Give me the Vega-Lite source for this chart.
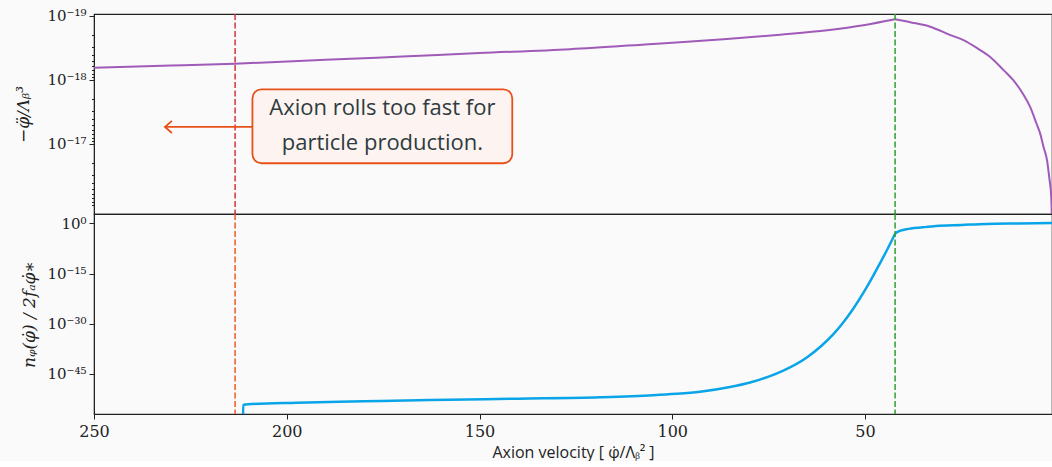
{
  "$schema": "https://vega.github.io/schema/vega-lite/v6.json",
  "autosize": "pad",
  "padding": {"left": 14, "top": 8, "right": 0, "bottom": 0},
  "background": "#fafafa",
  "spacing": 0,
  "bounds": "flush",
  "config": {
    "view": {"stroke": "#222222", "strokeWidth": 1.2, "fill": "#fafafa"},
    "axis": {
      "grid": false,
      "domainColor": "#222222",
      "tickColor": "#222222",
      "labelFont": "DejaVu Serif",
      "labelFontSize": 15,
      "labelColor": "#222222",
      "titleFont": "Open Sans",
      "titleFontSize": 16,
      "titleFontWeight": "normal",
      "titleColor": "#222222",
      "labelOverlap": false
    }
  },
  "datasets": {
    "accel": [
      {"s": "rise", "v": 250, "a": 6.46e-19}, {"s": "rise", "v": 230, "a": 5.96e-19}, {"s": "rise", "v": 213.4, "a": 5.56e-19},
      {"s": "rise", "v": 190, "a": 4.85e-19}, {"s": "rise", "v": 170, "a": 4.30e-19}, {"s": "rise", "v": 150, "a": 3.80e-19},
      {"s": "rise", "v": 126.5, "a": 3.31e-19}, {"s": "rise", "v": 105, "a": 2.73e-19}, {"s": "rise", "v": 85.8, "a": 2.29e-19},
      {"s": "rise", "v": 72, "a": 1.96e-19}, {"s": "rise", "v": 59.8, "a": 1.67e-19}, {"s": "rise", "v": 50, "a": 1.38e-19},
      {"s": "rise", "v": 42.2, "a": 1.127e-19},
      {"s": "fall", "v": 42.2, "a": 1.127e-19}, {"s": "fall", "v": 38, "a": 1.26e-19}, {"s": "fall", "v": 33.1, "a": 1.47e-19},
      {"s": "fall", "v": 28, "a": 1.97e-19}, {"s": "fall", "v": 24.6, "a": 2.37e-19}, {"s": "fall", "v": 21, "a": 3.16e-19},
      {"s": "fall", "v": 17.6, "a": 4.33e-19}, {"s": "fall", "v": 14, "a": 7.08e-19}, {"s": "fall", "v": 11.6, "a": 1e-18},
      {"s": "fall", "v": 9, "a": 1.66e-18}, {"s": "fall", "v": 7.2, "a": 2.61e-18}, {"s": "fall", "v": 5.5, "a": 4.83e-18},
      {"s": "fall", "v": 4.6, "a": 6.76e-18}, {"s": "fall", "v": 3.7, "a": 1.11e-17}, {"s": "fall", "v": 2.8, "a": 1.78e-17},
      {"s": "fall", "v": 2.2, "a": 3.39e-17}, {"s": "fall", "v": 1.7, "a": 6.65e-17}, {"s": "fall", "v": 1.4, "a": 3e-16}
    ],
    "number": [
      {"s": "slow", "v": 211.35, "n": 1e-60}, {"s": "slow", "v": 211.3, "n": 5e-55}, {"s": "slow", "v": 210, "n": 8.9e-55},
      {"s": "slow", "v": 197.4, "n": 2.5e-54}, {"s": "slow", "v": 180, "n": 6.3e-54}, {"s": "slow", "v": 162.8, "n": 1.58e-53},
      {"s": "slow", "v": 140, "n": 4e-53}, {"s": "slow", "v": 118.7, "n": 1e-52}, {"s": "slow", "v": 105, "n": 4e-52},
      {"s": "slow", "v": 99, "n": 1.12e-51}, {"s": "slow", "v": 92.8, "n": 5e-51}, {"s": "slow", "v": 85, "n": 1.26e-49},
      {"s": "slow", "v": 79.8, "n": 2.8e-48}, {"s": "slow", "v": 75, "n": 1.58e-46}, {"s": "slow", "v": 71.2, "n": 1e-44},
      {"s": "slow", "v": 65, "n": 1e-40}, {"s": "slow", "v": 61.5, "n": 1.58e-37}, {"s": "slow", "v": 58.2, "n": 7.9e-34},
      {"s": "slow", "v": 55.5, "n": 4e-30}, {"s": "slow", "v": 53.1, "n": 2.5e-26}, {"s": "slow", "v": 49.4, "n": 1.58e-19},
      {"s": "slow", "v": 46, "n": 2e-12}, {"s": "slow", "v": 44, "n": 5e-8}, {"s": "slow", "v": 42.2, "n": 8e-4},
      {"s": "fast", "v": 42.2, "n": 8e-4}, {"s": "fast", "v": 41.8, "n": 2e-3},
      {"s": "fast", "v": 39.3, "n": 1.58e-2}, {"s": "fast", "v": 35, "n": 0.063}, {"s": "fast", "v": 31.6, "n": 0.158},
      {"s": "fast", "v": 25, "n": 0.316}, {"s": "fast", "v": 18.6, "n": 0.63}, {"s": "fast", "v": 10, "n": 0.89}, {"s": "fast", "v": 1.5, "n": 1.23}
    ],
    "events": [
      {"event": "fast", "v": 213.4},
      {"event": "end", "v": 42.2}
    ],
    "note": [
      {"line1": "Axion rolls too fast for", "line2": "particle production."}
    ]
  },
  "vconcat": [
    {
      "width": 958,
      "height": 200,
      "layer": [
        {
          "data": {"name": "accel"},
          "mark": {"type": "line", "color": "#a05ab8", "strokeWidth": 2, "clip": true, "interpolate": "monotone"},
          "encoding": {
            "x": {
              "field": "v", "type": "quantitative",
              "scale": {"domain": [250, 1.5], "nice": false, "zero": false},
              "axis": {"values": [250, 200, 150, 100, 50], "labels": false, "title": null, "tickSize": 4}
            },
            "y": {
              "field": "a", "type": "quantitative",
              "scale": {"type": "log", "domain": [9.31e-20, 1.242e-16], "reverse": true, "nice": false},
              "axis": {
                "values": [1e-19, 2e-19, 3e-19, 4e-19, 5e-19, 6e-19, 7e-19, 8e-19, 9e-19,
                           1e-18, 2e-18, 3e-18, 4e-18, 5e-18, 6e-18, 7e-18, 8e-18, 9e-18,
                           1e-17, 2e-17, 3e-17, 4e-17, 5e-17, 6e-17, 7e-17, 8e-17, 9e-17],
                "labelExpr": "abs(datum.value-1e-19)<1e-21 ? '10⁻¹⁹' : abs(datum.value-1e-18)<1e-20 ? '10⁻¹⁸' : abs(datum.value-1e-17)<1e-19 ? '10⁻¹⁷' : ''",
                "tickSize": {"condition": {"test": "abs(datum.value-1e-19)<1e-21 || abs(datum.value-1e-18)<1e-20 || abs(datum.value-1e-17)<1e-19", "value": 5}, "value": 2.5},
                "labelPadding": 3,
                "title": "−φ̈/Λᵦ³",
                "titleFont": "DejaVu Serif",
                "titleFontStyle": "italic",
                "titleFontSize": 17,
                "titlePadding": 14
              }
            },
            "detail": {"field": "s"}
          }
        },
        {
          "data": {"name": "events"},
          "transform": [{"filter": "datum.event == 'fast'"}],
          "mark": {"type": "rule", "color": "#d0343e", "strokeWidth": 1.5, "strokeDash": [6, 2.5]},
          "encoding": {"x": {"field": "v", "type": "quantitative"}}
        },
        {
          "data": {"name": "events"},
          "transform": [{"filter": "datum.event == 'end'"}],
          "mark": {"type": "rule", "color": "#2ca02c", "strokeWidth": 1.5, "strokeDash": [6, 2.5]},
          "encoding": {"x": {"field": "v", "type": "quantitative"}}
        },
        {
          "data": {"name": "note"},
          "mark": {"type": "rule", "color": "#e8501a", "strokeWidth": 1.8},
          "encoding": {"x": {"datum": 231.6}, "x2": {"datum": 208.9}, "y": {"datum": 5.42e-18}}
        },
        {
          "data": {"name": "note"},
          "mark": {"type": "point", "shape": "M1,-0.86L0,0L1,0.86", "size": 196, "filled": false, "stroke": "#e8501a", "strokeWidth": 1.8, "opacity": 1},
          "encoding": {"x": {"datum": 231.6}, "y": {"datum": 5.42e-18}}
        },
        {
          "data": {"name": "note"},
          "mark": {"type": "rect", "fill": "#fdf4f1", "stroke": "#e8501a", "strokeWidth": 1.8, "cornerRadius": 9},
          "encoding": {"x": {"datum": 208.9}, "x2": {"datum": 141.5}, "y": {"datum": 1.40e-18}, "y2": {"datum": 2.0e-17}}
        },
        {
          "data": {"name": "note"},
          "mark": {"type": "text", "font": "Open Sans", "fontSize": 22, "color": "#2e3b40", "align": "center", "baseline": "middle"},
          "encoding": {"x": {"datum": 175.2}, "y": {"datum": 2.77e-18}, "text": {"field": "line1"}}
        },
        {
          "data": {"name": "note"},
          "mark": {"type": "text", "font": "Open Sans", "fontSize": 22, "color": "#2e3b40", "align": "center", "baseline": "middle"},
          "encoding": {"x": {"datum": 175.2}, "y": {"datum": 9.75e-18}, "text": {"field": "line2"}}
        }
      ]
    },
    {
      "width": 958,
      "height": 200,
      "layer": [
        {
          "data": {"name": "number"},
          "mark": {"type": "line", "color": "#0aa5e8", "strokeWidth": 2.5, "clip": true, "interpolate": "monotone"},
          "encoding": {
            "x": {
              "field": "v", "type": "quantitative",
              "scale": {"domain": [250, 1.5], "nice": false, "zero": false},
              "axis": {"values": [250, 200, 150, 100, 50], "tickSize": 5, "labelPadding": 4, "labelFontSize": 16, "labelFlush": false, "title": "Axion velocity [ φ̇/Λᵦ² ]", "titlePadding": 5}
            },
            "y": {
              "field": "n", "type": "quantitative",
              "scale": {"type": "log", "domain": [1.05e-57, 600], "nice": false},
              "axis": {
                "values": [1, 1e-15, 1e-30, 1e-45],
                "labelExpr": "datum.value > 0.5 ? '10⁰' : datum.value > 1e-16 ? '10⁻¹⁵' : datum.value > 1e-31 ? '10⁻³⁰' : '10⁻⁴⁵'",
                "tickSize": 5,
                "labelPadding": 3,
                "title": "nᵩ(φ̇) / 2fₐφ̇∗",
                "titleFont": "DejaVu Serif",
                "titleFontStyle": "italic",
                "titleFontSize": 17,
                "titlePadding": 8
              }
            },
            "detail": {"field": "s"}
          }
        },
        {
          "data": {"name": "events"},
          "transform": [{"filter": "datum.event == 'fast'"}],
          "mark": {"type": "rule", "color": "#f05a24", "strokeWidth": 1.5, "strokeDash": [6, 2.5]},
          "encoding": {"x": {"field": "v", "type": "quantitative"}}
        },
        {
          "data": {"name": "events"},
          "transform": [{"filter": "datum.event == 'end'"}],
          "mark": {"type": "rule", "color": "#2ca02c", "strokeWidth": 1.5, "strokeDash": [6, 2.5]},
          "encoding": {"x": {"field": "v", "type": "quantitative"}}
        }
      ]
    }
  ]
}
